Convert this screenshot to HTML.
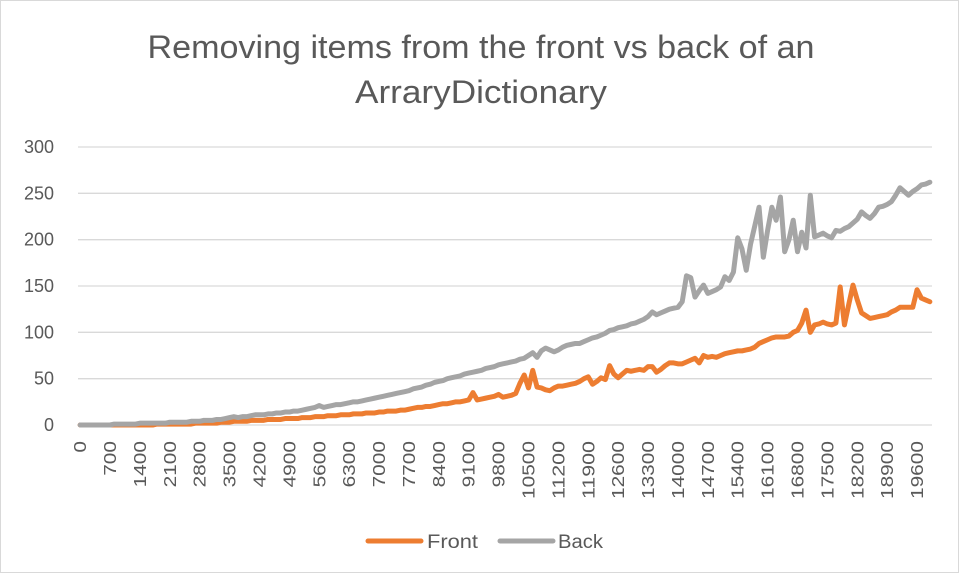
<!DOCTYPE html>
<html><head><meta charset="utf-8"><style>
body{margin:0;background:#fff;}
svg{display:block;font-family:"Liberation Sans",sans-serif;}
</style></head><body>
<svg id="chart" width="959" height="573">
<rect x="0.5" y="0.5" width="958" height="572" fill="#fff" stroke="#d9d9d9"/>
<text x="481" y="58" text-anchor="middle" font-size="32" fill="#595959" textLength="667" lengthAdjust="spacingAndGlyphs">Removing items from the front vs back of an</text>
<text x="481" y="103" text-anchor="middle" font-size="32" fill="#595959" textLength="252" lengthAdjust="spacingAndGlyphs">ArraryDictionary</text>
<g id="grid"></g><g id="yt"></g><g id="xt"></g><g id="series"></g>
<g>
<line x1="368" y1="541" x2="421" y2="541" stroke="#ed7d31" stroke-width="5" stroke-linecap="round"/>
<text x="427" y="548" font-size="19" fill="#595959" textLength="51" lengthAdjust="spacingAndGlyphs">Front</text>
<line x1="500" y1="541" x2="553" y2="541" stroke="#a5a5a5" stroke-width="5" stroke-linecap="round"/>
<text x="558" y="548" font-size="19" fill="#595959" textLength="45" lengthAdjust="spacingAndGlyphs">Back</text>
</g>
</svg>
<script>
const yTicks=[0,50,100,150,200,250,300];
const front=[0,0,0,0,0,0,0,0,0,0,
0,0,0,0,0,0,0,0,1,1,
1,1,1,1,1,1,1,2,2,2,
2,2,2,3,3,3,4,4,4,4,
5,5,5,5,6,6,6,6,7,7,
7,7,8,8,8,9,9,9,10,10,
10,11,11,11,12,12,12,13,13,13,
14,14,15,15,15,16,16,17,18,19,
19,20,20,21,22,23,23,24,25,25,
26,27,35,27,28,29,30,31,33,30,
31,32,34,45,54,40,59,41,40,38,
37,40,42,42,43,44,45,47,50,52,
44,47,51,49,64,55,51,55,59,58,
59,60,59,63,63,57,60,64,67,67,
66,66,68,70,72,67,75,73,74,73,
75,77,78,79,80,80,81,82,84,88,
90,92,94,95,95,95,96,100,102,110,
124,100,108,109,111,109,108,110,149,108,
130,151,135,121,118,115,116,117,118,119,
122,124,127,127,127,127,146,137,135,133];
const back=[0,0,0,0,0,0,0,0,1,1,
1,1,1,1,2,2,2,2,2,2,
2,3,3,3,3,3,4,4,4,5,
5,5,6,6,7,8,9,8,9,9,
10,11,11,11,12,12,13,13,14,14,
15,15,16,17,18,19,21,19,20,21,
22,22,23,24,25,25,26,27,28,29,
30,31,32,33,34,35,36,37,39,40,
41,43,44,46,47,48,50,51,52,53,
55,56,57,58,59,61,62,63,65,66,
67,68,69,71,72,75,78,73,80,83,
81,79,81,84,86,87,88,88,90,92,
94,95,97,99,102,103,105,106,107,109,
110,112,114,117,122,119,121,123,125,126,
127,133,161,159,138,145,151,142,144,146,
149,160,156,165,202,190,167,195,215,235,
181,210,235,221,246,187,200,221,187,208,
191,248,203,205,207,204,202,210,209,212,
214,218,222,230,226,223,228,235,236,238,
241,248,256,252,248,252,255,259,260,262];
const categories=front.map((_,i)=>i*100);
const NS="http://www.w3.org/2000/svg";
const X0=78,X1=932,Y0=425,Y300=147;
const bw=(X1-X0)/categories.length;
const xs=i=>X0+(i+0.5)*bw;
const ys=v=>Y0-(v/300)*(Y0-Y300);
function mk(t,a,p){const e=document.createElementNS(NS,t);for(const k in a)e.setAttribute(k,a[k]);p.appendChild(e);return e;}
const grid=document.getElementById('grid'),yt=document.getElementById('yt'),xt=document.getElementById('xt'),ser=document.getElementById('series');
yTicks.forEach(v=>{
  const l=mk('line',{x1:X0,x2:X1,y1:ys(v),y2:ys(v),stroke:'#d9d9d9','stroke-width':1.3},grid);
  
  
  const t=mk('text',{x:54,y:ys(v)+6,'text-anchor':'end','font-size':18,fill:'#595959'},yt);
  t.textContent=v;
  
  
});
categories.forEach((c,i)=>{
  if(i%7!==0)return;
  const s=String(c);
  const x=xs(i)+6,y=441;
  const t=mk('text',{x:x,y:y,'text-anchor':'end','font-size':17.5,fill:'#595959',textLength:(s.length*11.6).toFixed(1),lengthAdjust:'spacingAndGlyphs',transform:`rotate(-90 ${x} ${y})`},xt);
  t.textContent=s;
  
  
});
function line(data,color,name){
  const d=data.map((v,i)=>(i?'L':'M')+xs(i).toFixed(2)+' '+ys(v).toFixed(2)).join(' ');
  const p=mk('path',{d:d,fill:'none',stroke:color,'stroke-width':5,'stroke-linejoin':'round','stroke-linecap':'round'},ser);
  
  
}
line(front,'#ed7d31','front-series-line');
line(back,'#a5a5a5','back-series-line');
</script>
</body></html>
